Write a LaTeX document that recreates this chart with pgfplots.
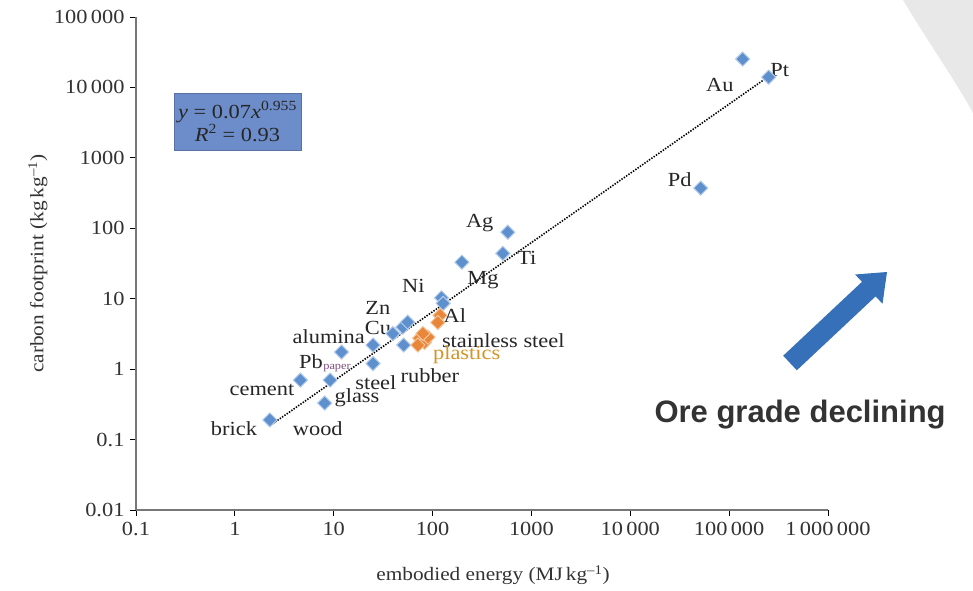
\documentclass[border=0pt]{standalone}
\usepackage{pgfplots}
\pgfplotsset{compat=1.18}
\usepackage{pgfplotstable}
\usepackage{fontspec}
\setmainfont[FakeStretch=1.12]{Liberation Serif}
\newfontfamily\tickfont[FakeStretch=1.22]{Liberation Serif}
\newfontfamily\arialb{Liberation Sans}
\definecolor{ptblue}{HTML}{5F90CE}
\definecolor{ptblueedge}{HTML}{B3CCEA}
\definecolor{ptorange}{HTML}{E8873A}
\definecolor{ptorangeedge}{HTML}{F4C297}
\definecolor{boxblue}{HTML}{6C8DCA}
\definecolor{arrowblue}{HTML}{3570B8}
\definecolor{axisgray}{HTML}{777777}

\pgfplotstableread{
x y
2.26 0.19
8.1 0.33
4.6 0.70
9.2 0.70
12 1.75
25 1.2
25 2.2
39.7 3.2
50 3.95
56 4.65
51 2.2
123 10.3
128 8.6
577 88
514 44
198 33
137000 25300
251000 14000
51600 372
}\bluedata

\pgfplotstableread{
x y
119 5.8
113 4.6
74 2.75
83 2.4
71 2.2
90 2.85
80 3.2
}\orangedata

\pgfplotstableread{
x y
2.3 0.16
245000 14000
}\trend

\begin{document}
\begin{tikzpicture}
\useasboundingbox (0pt,0pt) rectangle (973pt,590pt);
\fill[white] (0pt,0pt) rectangle (973pt,590pt);
% background slide decoration
\fill[gray!18] (903pt,590pt) .. controls (930pt,545pt) and (955pt,510pt) .. (973pt,477pt) -- (973pt,590pt) -- cycle;
\begin{axis}[
  at={(136pt,80pt)}, anchor=south west,
  scale only axis, width=692pt, height=493pt,
  xmode=log, ymode=log,
  xmin=0.1, xmax=1000000, ymin=0.01, ymax=100000,
  axis lines=left,
  axis line style={-, axisgray, line width=1.6pt},
  tick style={black, line width=0.8pt},
  major tick length=6pt,
  tick align=outside,
  xminorticks=false, yminorticks=false,
  clip=false,
  xtick={0.1,1,10,100,1000,10000,100000,1000000},
  xticklabels={\textnormal{0.1},\textnormal{1},\textnormal{10},\textnormal{100},\textnormal{1000},\textnormal{10\,000},\textnormal{100\,000},\textnormal{1\,000\,000}},
  ytick={0.01,0.1,1,10,100,1000,10000,100000},
  yticklabels={\textnormal{0.01},\textnormal{0.1},\textnormal{1},\textnormal{10},\textnormal{100},\textnormal{1000},\textnormal{10\,000},\textnormal{100\,000}},
  ticklabel style={font=\tickfont\fontsize{20}{22}\selectfont, text=black!80},
  xticklabel style={yshift=-3pt},
  yticklabel style={xshift=-2pt},
  xlabel={embodied energy (MJ\,kg\textsuperscript{\textendash1})},
  ylabel={carbon footprint (kg\,kg\textsuperscript{\textendash1})},
  every axis x label/.style={at={(axis description cs:0.516,-0.132)}, anchor=center, font=\fontsize{19}{21}\selectfont, text=black!80},
  every axis y label/.style={at={(axis description cs:-0.1416,0.5)}, rotate=90, anchor=center, font=\fontsize{19}{21}\selectfont, text=black!80},
]
\addplot[black, line width=1.6pt, dash pattern=on 1.4pt off 1.4pt] table[x=x,y=y] {\trend};
\addplot[only marks, mark=square*, mark size=5pt, mark options={rotate=45, fill=ptblue, draw=ptblueedge, line width=1pt}] table[x=x,y=y] {\bluedata};
\addplot[only marks, mark=square*, mark size=5pt, mark options={rotate=45, fill=ptorange, draw=ptorangeedge, line width=1pt}] table[x=x,y=y] {\orangedata};

\begin{scope}[every node/.style={font=\fontsize{20}{22}\selectfont, text=black!85, inner sep=0pt}]
\node at (axis cs:80400,10800) {Au};
\node at (axis cs:325000,17700) {Pt};
\node at (axis cs:31600,484) {Pd};
\node at (axis cs:300,119) {Ag};
\node at (axis cs:898,37.7) {Ti};
\node at (axis cs:323,18.4) {Mg};
\node at (axis cs:64,15) {Ni};
\node at (axis cs:28,7.5) {Zn};
\node at (axis cs:28,3.82) {Cu};
\node at (axis cs:168,5.85) {Al};
\node at (axis cs:8.9,2.85) {alumina};
\node at (axis cs:5.9,1.26) {Pb};
\node[font=\fontsize{11}{12}\selectfont, text=violet!40!gray] at (axis cs:10.8,1.03) {paper};
\node at (axis cs:26.7,0.65) {steel};
\node at (axis cs:17.2,0.39) {glass};
\node at (axis cs:1.88,0.50) {cement};
\node at (axis cs:0.98,0.145) {brick};
\node at (axis cs:6.9,0.145) {wood};
\node at (axis cs:94,0.82) {rubber};
\node[anchor=west] at (axis cs:124,2.58) {stainless steel};
\node[anchor=west, text=ptorange!75!yellow!90!black] at (axis cs:100.7,1.58) {plastics};
\end{scope}
\end{axis}
% equation box
\node[fill=boxblue, draw=boxblue!80!black, line width=0.4pt, minimum width=127pt, minimum height=57pt, align=center, font=\fontsize{20}{23}\selectfont, text=black!85, inner sep=2pt] at (237.5pt,468.5pt) {\textit{y} = 0.07\textit{x}\textsuperscript{0.955}\\ \textit{R}\textsuperscript{2} = 0.93};
% arrow
\fill[arrowblue] (783.2pt,234.3pt) -- (796.8pt,219.7pt) -- (875.6pt,293.6pt) -- (882.5pt,286.3pt) -- (887pt,318pt) -- (855.1pt,315.5pt) -- (862.0pt,308.2pt) -- cycle;
\node[font=\arialb\bfseries\fontsize{31}{33}\selectfont, text=black!80, anchor=west] at (651pt,175pt) {Ore grade declining};
\end{tikzpicture}
\end{document}
